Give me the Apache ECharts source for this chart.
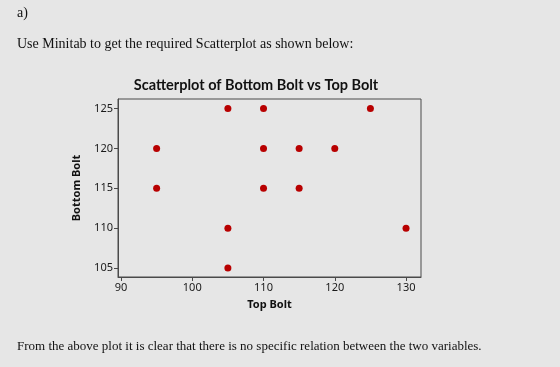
<!DOCTYPE html>
<html>
<head>
<meta charset="utf-8">
<script src="https://cdn.jsdelivr.net/npm/echarts@6/dist/echarts.min.js"></script>
<style>
	html, body { margin: 0; padding: 0; background: #e6e6e6; }
	#chart { width: 560px; height: 367px; }
</style>
</head>
<body>
<div id="chart"></div>
<script>
'use strict';
// Top Bolt (x) and Bottom Bolt (y) readings
var topBolt    = [95, 95, 105, 105, 105, 110, 110, 110, 115, 115, 120, 125, 130],
		bottomBolt = [120, 115, 125, 110, 105, 125, 120, 115, 120, 115, 120, 125, 110],
		xTicks = [90, 100, 110, 120, 130],
		yTicks = [105, 110, 115, 120, 125];

var chart = echarts.init(document.getElementById('chart'));

var points = topBolt.map(function (x, i) {
	return [x, bottomBolt[i]];
});

var axisColor = '#4a4a4a',
		labelFont = 'Noto Sans, sans-serif';

// only print the real tick values (axis ends are not round numbers)
function showTick(list) {
	return function (v) {
		return list.indexOf(Math.round(v * 100) / 100) >= 0 ? String(v) : '';
	};
}

var option = {
	backgroundColor: '#e6e6e6',
	animation: false,
	title: {
		text: 'Scatterplot of Bottom Bolt vs Top Bolt',
		left: 251,
		textAlign: 'center',
		top: 73,
		textStyle: {
			fontFamily: 'Lato, sans-serif',
			fontSize: 14.5,
			fontWeight: 'bold',
			color: '#111'
		}
	},
	grid: {
		left: 118,
		top: 99,
		width: 303,
		height: 178,
		show: true,
		borderColor: axisColor,
		borderWidth: 1,
		backgroundColor: 'transparent'
	},
	xAxis: {
		type: 'value',
		name: 'Top Bolt',
		nameLocation: 'middle',
		nameGap: 22,
		nameTextStyle: { fontFamily: labelFont, fontSize: 11, fontWeight: 'bold', color: '#111' },
		min: 89.58,
		max: 132.1,
		splitNumber: 5,
		splitLine: { show: false },
		axisLine: { show: true, lineStyle: { color: axisColor, width: 1 } },
		axisTick: { show: true, length: 4, lineStyle: { color: axisColor } },
		axisLabel: {
			showMinLabel: false,
			showMaxLabel: false,
			margin: 5,
			fontFamily: labelFont,
			fontSize: 11,
			color: '#1a1a1a',
			formatter: showTick(xTicks)
		}
	},
	yAxis: {
		type: 'value',
		name: 'Bottom Bolt',
		nameLocation: 'middle',
		nameGap: 36,
		nameTextStyle: { fontFamily: labelFont, fontSize: 11, fontWeight: 'bold', color: '#111' },
		min: 103.87,
		max: 126.2,
		splitNumber: 5,
		splitLine: { show: false },
		axisLine: { show: true, lineStyle: { color: axisColor, width: 1 } },
		axisTick: { show: true, length: 4, lineStyle: { color: axisColor } },
		axisLabel: {
			showMinLabel: false,
			showMaxLabel: false,
			margin: 5,
			fontFamily: labelFont,
			fontSize: 11,
			color: '#1a1a1a',
			formatter: showTick(yTicks)
		}
	},
	graphic: [
		{
			type: 'text',
			left: 17,
			top: 6,
			style: { text: 'a)', font: '14px "Liberation Serif", serif', fill: '#111' }
		},
		{
			type: 'text',
			left: 17,
			top: 37,
			style: { text: 'Use Minitab to get the required Scatterplot as shown below:', font: '14px "Liberation Serif", serif', fill: '#111' }
		},
		{
			type: 'text',
			left: 17,
			top: 340,
			style: { text: 'From the above plot it is clear that there is no specific relation between the two variables.', font: '13px "Liberation Serif", serif', fill: '#111' }
		}
	],
	series: [
		{
			type: 'scatter',
			data: points,
			symbol: 'circle',
			symbolSize: 7,
			itemStyle: { color: '#b80000', opacity: 1 }
		}
	]
};

chart.setOption(option);
</script>
</body>
</html>
